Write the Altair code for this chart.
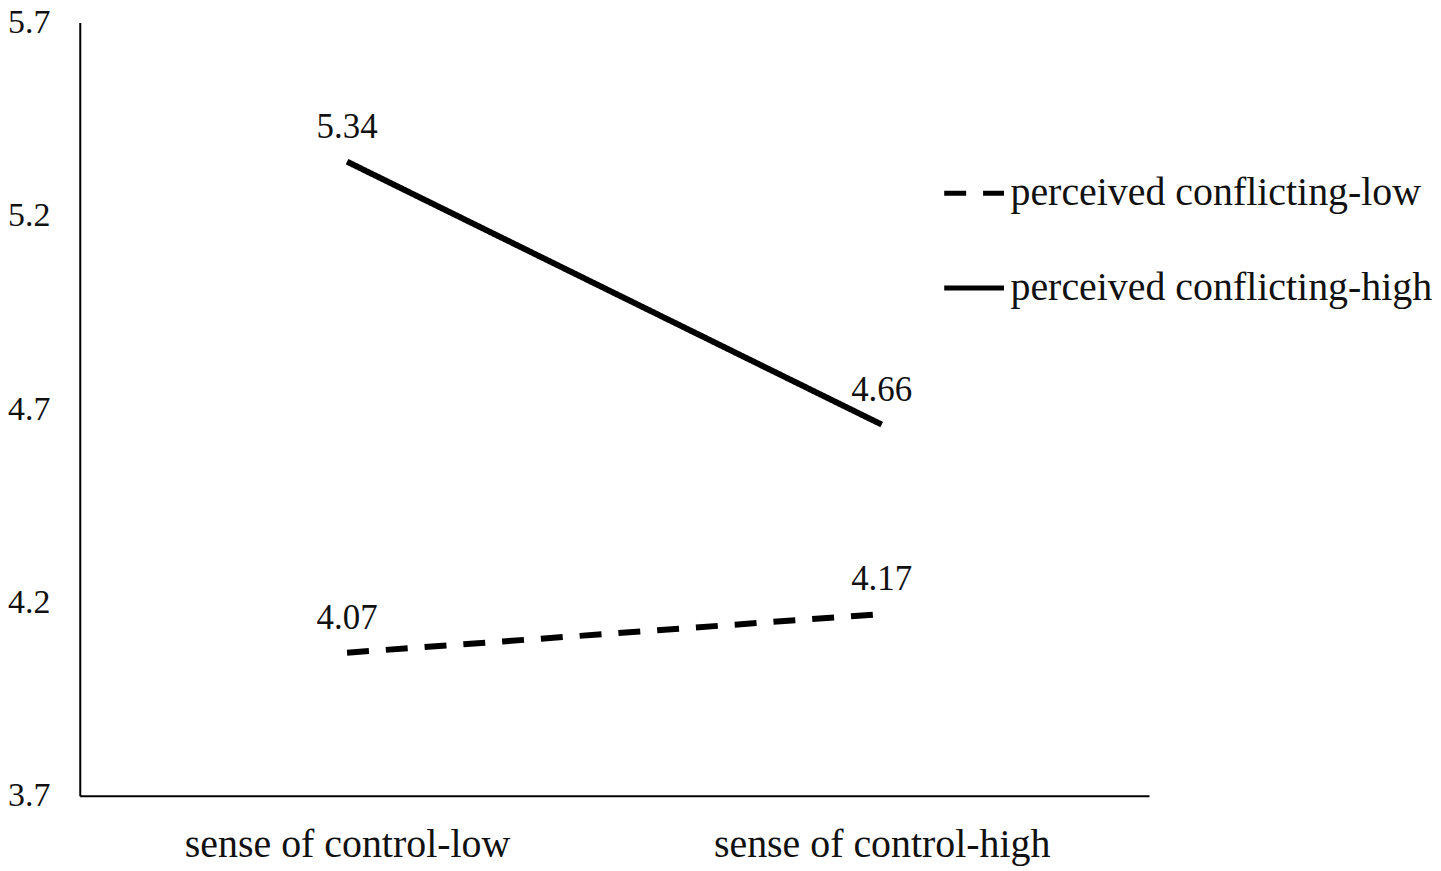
import altair as alt
import pandas as pd

categories = ["sense of control-low", "sense of control-high"]
series_names = ["perceived conflicting-low", "perceived conflicting-high"]
low_values = [4.07, 4.17]
high_values = [5.34, 4.66]
y_ticks = [3.7, 4.2, 4.7, 5.2, 5.7]

rows = []
for s, vals in zip(series_names, [low_values, high_values]):
    for c, v in zip(categories, vals):
        rows.append({"category": c, "series": s, "value": v})
df = pd.DataFrame(rows)

FONT = "Liberation Serif"

x = alt.X("category:N", sort=categories,
          scale=alt.Scale(type="point", padding=0.5),
          axis=alt.Axis(title=None, labelAngle=0, ticks=False, labelFontSize=40,
                        labelPadding=29, domainColor="black", domainWidth=2,
                        labelColor="#111111", grid=False, labelFont=FONT,
                        labelLimit=0))
y = alt.Y("value:Q", scale=alt.Scale(domain=[3.7, 5.7], nice=False, zero=False),
          axis=alt.Axis(title=None, values=y_ticks, format=".1f", ticks=False,
                        grid=False, labelFontSize=34, labelPadding=30,
                        domainColor="black", domainWidth=2, labelColor="#111111",
                        labelFont=FONT, labelLimit=0))

lines = alt.Chart(df).mark_line(strokeWidth=6, color="black", strokeCap="butt").encode(
    x=x, y=y,
    strokeDash=alt.StrokeDash(
        "series:N", sort=series_names,
        scale=alt.Scale(domain=series_names, range=[[22, 17], [1, 0]]),
        legend=alt.Legend(title=None, orient="none", legendX=865, legendY=139,
                          labelFontSize=40, labelFont=FONT, labelColor="#111111",
                          symbolType="stroke", symbolSize=3600, symbolStrokeWidth=5,
                          symbolStrokeColor="black", rowPadding=42, labelOffset=4,
                          labelLimit=0)),
    detail="series:N",
)

labels = alt.Chart(df).mark_text(dy=-35, fontSize=35, font=FONT, color="#111111",
                                 baseline="middle", align="center").encode(
    x=x, y=y, text=alt.Text("value:Q", format=".2f"))

chart = alt.layer(lines, labels).properties(
    width=1073, height=776,
    autosize=alt.AutoSizeParams(type="none"),
    padding={"left": 72, "top": 13, "right": 285, "bottom": 70},
    background="white",
).configure_view(stroke=None)

chart.save("out.html", embed_options={"renderer": "svg", "actions": False})
